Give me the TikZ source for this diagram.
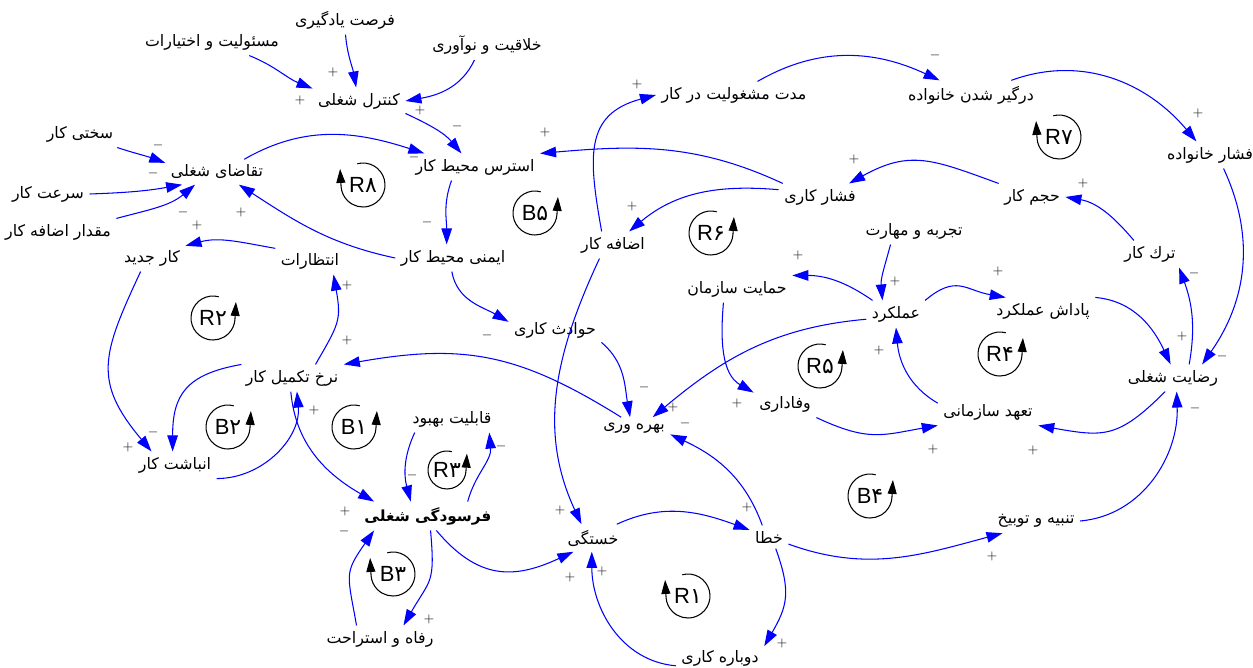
\documentclass[tikz,border=0pt]{standalone}
\usepackage{fontspec}
\setmainfont{Liberation Sans}
\newfontfamily\farsi[Script=Arabic]{DejaVu Sans}
\TeXXeTstate=1
\usetikzlibrary{arrows.meta}
\definecolor{LinkBlue}{HTML}{0000FF}
\definecolor{SignGray}{HTML}{1E1E1E}
\newcommand{\fa}[1]{\beginR#1\endR}

\begin{document}
\begin{tikzpicture}[x=0.02cm,y=0.02cm,
    var/.style={font=\farsi\fontsize{9}{10}\selectfont,inner sep=3pt},
    core/.style={font=\farsi\bfseries\fontsize{8.7}{11}\selectfont,inner sep=3pt},
    link/.style={LinkBlue,line width=0.6pt,-{Triangle[length=3.2mm,width=2.1mm]}},
    sgn/.style={font=\fontsize{7.5}{8}\selectfont,text=SignGray,inner sep=0pt},
    loopline/.style={line width=0.6pt,-{Triangle[length=2.8mm,width=1.8mm]}},
    looptxt/.style={font=\fontsize{12.5}{13}\selectfont,inner sep=0pt}]
  \useasboundingbox (0,0) rectangle (1253,-668);

  % variables
  \node[var] (learn) at (345,-20) {\fa{فرصت یادگیری}};
  \node[var] (resp) at (212,-42) {\fa{مسئولیت و اختیارات}};
  \node[var] (creat) at (487,-45) {\fa{خلاقیت و نوآوری}};
  \node[var] (control) at (359,-101) {\fa{کنترل شغلی}};
  \node[var] (hard) at (80,-134) {\fa{سختی کار}};
  \node[var] (demand) at (217,-172) {\fa{تقاضای شغلی}};
  \node[var] (speed) at (48,-194) {\fa{سرعت کار}};
  \node[var] (overtimeamt) at (58,-232) {\fa{مقدار اضافه کار}};
  \node[var] (stress) at (475,-167) {\fa{استرس محیط کار}};
  \node[var] (safety) at (453,-258) {\fa{ایمنی محیط کار}};
  \node[var] (newwork) at (152,-258) {\fa{کار جدید}};
  \node[var] (expect) at (310,-261) {\fa{انتظارات}};
  \node[var] (rate) at (292,-378) {\fa{نرخ تکمیل کار}};
  \node[var] (accum) at (175,-465) {\fa{انباشت کار}};
  \node[var] (improve) at (452,-419) {\fa{قابلیت بهبود}};
  \node[core] (burnout) at (428,-516) {\fa{فرسودگی شغلی}};
  \node[var] (welfare) at (380,-639) {\fa{رفاه و استراحت}};
  \node[var] (accident) at (555,-330) {\fa{حوادث کاری}};
  \node[var] (prod) at (634,-428) {\fa{بهره وری}};
  \node[var] (tired) at (593,-538) {\fa{خستگی}};
  \node[var] (error) at (769,-537) {\fa{خطا}};
  \node[var] (rework) at (720,-658) {\fa{دوباره کاری}};
  \node[var] (overtime) at (613,-245) {\fa{اضافه کار}};
  \node[var] (duration) at (734,-95) {\fa{مدت مشغولیت در کار}};
  \node[var] (famInv) at (971,-95) {\fa{درگیر شدن خانواده}};
  \node[var] (fampress) at (1210,-155) {\fa{فشار خانواده}};
  \node[var] (workpress) at (820,-197) {\fa{فشار کاری}};
  \node[var] (volume) at (1032,-197) {\fa{حجم کار}};
  \node[var] (skill) at (914,-231) {\fa{تجربه و مهارت}};
  \node[var] (support) at (737,-289) {\fa{حمایت سازمان}};
  \node[var] (quit) at (1150,-254) {\fa{ترك کار}};
  \node[var] (perf) at (896,-314) {\fa{عملکرد}};
  \node[var] (reward) at (1043,-311) {\fa{پاداش عملکرد}};
  \node[var] (satisf) at (1173,-378) {\fa{رضایت شغلی}};
  \node[var] (loyal) at (785,-404) {\fa{وفاداری}};
  \node[var] (commit) at (988,-412) {\fa{تعهد سازمانی}};
  \node[var] (punish) at (1036,-521) {\fa{تنبیه و توبیخ}};

  % causal links
  \draw[link] (learn.-88) to[out=-85,in=100] (control.102);
  \draw[link] (resp.-20) to[out=-22,in=158] (control.165);
  \draw[link] (creat.-130) to[out=-115,in=10] (control.east);
  \draw[link] (control.-15) to[out=-25,in=130] (stress.135);
  \draw[link] (demand.25) to[out=30,in=162] (stress.165);
  \draw[link] (workpress.160) to[out=155,in=5] (stress.north east);
  \draw[link] (stress.-150) to[out=-110,in=90] (safety.115);
  \draw[link] (safety.west) to[out=168,in=-33] (demand.-30);
  \draw[link] (hard.-20) to[out=-18,in=160] (demand.170);
  \draw[link] (speed.east) to[out=2,in=190] (demand.200);
  \draw[link] (overtimeamt.north east) to[out=15,in=-140] (demand.-150);
  \draw[link] (expect.160) to[out=170,in=15] (newwork.20);
  \draw[link] (newwork.-130) to[out=-115,in=130,looseness=1.3] (accum.150);
  \draw[link] (rate.165) to[out=190,in=90,looseness=1.3] (accum.100);
  \draw[link] (rate.30) to[out=60,in=-80,looseness=1.3] (expect.-30);
  \draw[link] (prod.140) to[out=148,in=10,looseness=1.1] (rate.north east);
  \draw[link] (accum.south east) to[out=0,in=-85] (rate.-70);
  \draw[link] (rate.-95) to[out=-85,in=150] (burnout.165);
  \draw[link] (improve.-160) to[out=-115,in=105] (burnout.140);
  \draw[link] (burnout.20) to[out=75,in=-85] (improve.-20);
  \draw[link] (burnout.-80) to[out=-85,in=60,looseness=1.4] (welfare.30);
  \draw[link] (welfare.150) to[out=100,in=-125,looseness=1.4] (burnout.-165);
  \draw[link] (burnout.-60) to[out=-50,in=-155,looseness=1.2] (tired.-145);
  \draw[link] (overtime.-135) to[out=-115,in=115] (tired.130);
  \draw[link] (rework.190) to[out=175,in=-90] (tired.-95);
  \draw[link] (tired.30) to[out=25,in=160] (error.160);
  \draw[link] (error.120) to[out=110,in=-25] (prod.-10);
  \draw[link] (error.-60) to[out=-70,in=60,looseness=1.2] (rework.15);
  \draw[link] (error.-20) to[out=-20,in=195] (punish.-160);
  \draw[link] (punish.east) to[out=5,in=-88] (satisf.-75);
  \draw[link] (accident.-15) to[out=-40,in=100] (prod.110);
  \draw[link] (safety.-95) to[out=-80,in=150] (accident.170);
  \draw[link] (perf.190) to[out=185,in=40] (prod.30);
  \draw[link] (support.-135) to[out=-95,in=150] (loyal.160);
  \draw[link] (loyal.south east) to[out=-25,in=190,looseness=1.2] (commit.-165);
  \draw[link] (satisf.-120) to[out=-135,in=-10,looseness=1.3] (commit.-15);
  \draw[link] (commit.170) to[out=150,in=-85] (perf.-90);
  \draw[link] (skill.-150) to[out=-105,in=95] (perf.135);
  \draw[link] (perf.150) to[out=145,in=0] (support.north east);
  \draw[link] (perf.25) to[out=40,in=170,looseness=1.3] (reward.160);
  \draw[link] (reward.north east) to[out=-5,in=115] (satisf.100);
  \draw[link] (satisf.40) to[out=80,in=-70] (quit.-25);
  \draw[link] (fampress.-45) to[out=-65,in=55] (satisf.25);
  \draw[link] (quit.140) to[out=130,in=-10] (volume.east);
  \draw[link] (volume.north west) to[out=160,in=29,looseness=1.2] (workpress.25);
  \draw[link] (workpress.170) to[out=175,in=40] (overtime.40);
  \draw[link] (overtime.130) to[out=100,in=195,looseness=1.3] (duration.west);
  \draw[link] (duration.30) to[out=30,in=155] (famInv.155);
  \draw[link] (famInv.20) to[out=20,in=130] (fampress.135);

  % polarity signs
  \foreach \x/\y/\s [count=\i] in {333/72/+, 300/100/+, 420/110/+, 457/126/-,
      414/157/-, 545/132/+, 427/222/-, 241/212/+, 158/145/-, 153/173/-,
      183/212/-, 197/225/+, 128/447/+, 153/432/-, 347/285/+, 347/340/+,
      314/410/+, 345/511/+, 344/531/-, 412/475/-, 501/446/-, 429/619/+,
      570/577/+, 560/510/+, 602/571/+, 747/507/+, 685/423/-, 782/643/+,
      992/556/+, 1195/408/-, 644/387/-, 487/335/-, 673/407/+, 737/403/+,
      933/449/+, 1033/450/+, 879/350/+, 895/281/+, 798/255/+, 998/271/+,
      1182/336/+, 1194/273/-, 1222/356/-, 1083/183/+, 854/159/+, 632/206/+,
      637/84/+, 935/55/-, 1198/113/+}
    \node[sgn] (sg\i) at (\x,-\y) {$\s$};

  % loop markers, counter-clockwise
  \foreach \x/\y/\l/\d/\r [count=\i] in {213/318/R/۲/0.44, 228/427/B/۲/0.44,
      354/427/B/۱/0.44, 535/213/B/۵/0.44, 711/233/R/۶/0.44, 820/366/R/۵/0.44,
      1000/354/R/۴/0.44, 870/496/B/۴/0.44, 447/470/R/۳/0.38} {
    \draw[loopline] (\x,-\y) ++(75:\r cm) arc[start angle=75,end angle=355,radius=\r cm]
      -- ++(0.02cm,0.36cm);
    \node[looptxt] (ccw\i) at (\x,-\y) {\l{\farsi\d}};
  }
  % loop markers, clockwise
  \foreach \x/\y/\l/\d [count=\i] in {363/185/R/۸, 1059/137/R/۷, 393/574/B/۳, 688/596/R/۱} {
    \draw[loopline] (\x,-\y) ++(105:0.44cm) arc[start angle=105,end angle=-175,radius=0.44cm]
      -- ++(-0.02cm,0.36cm);
    \node[looptxt] (cw\i) at (\x,-\y) {\l{\farsi\d}};
  }
\end{tikzpicture}
\end{document}
